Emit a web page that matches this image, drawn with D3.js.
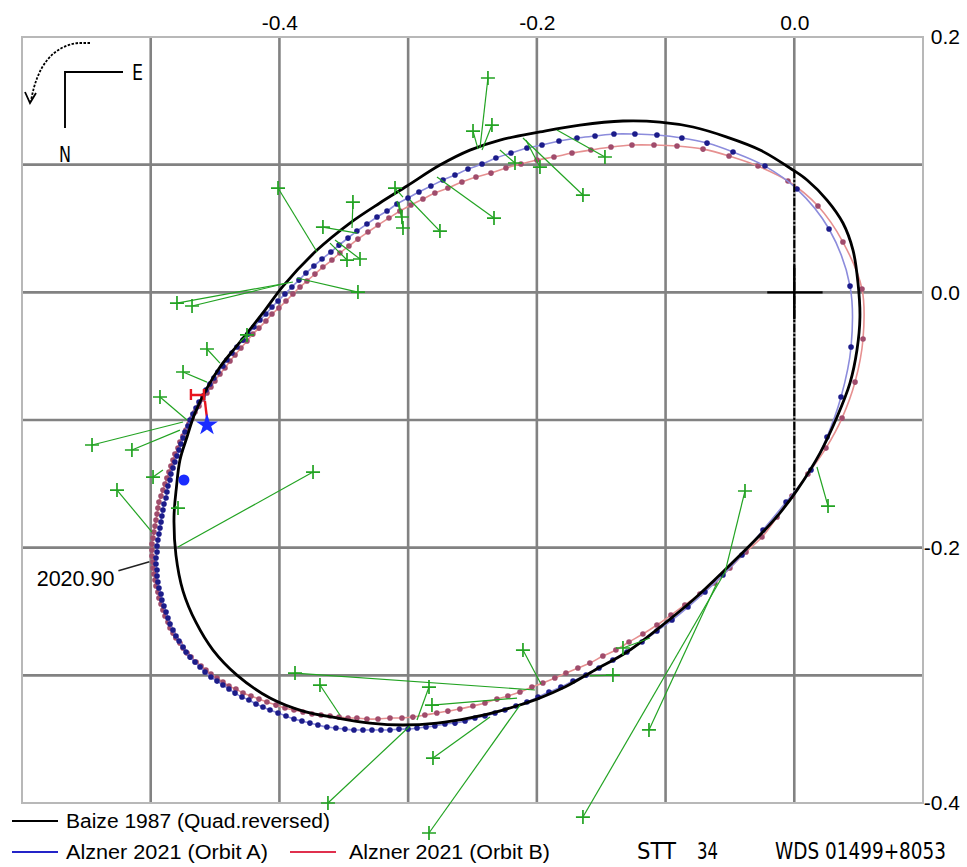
<!DOCTYPE html>
<html>
<head>
<meta charset="utf-8">
<script src="https://cdn.jsdelivr.net/npm/d3@7"></script>
<style>
  body { margin: 0; background: #fff; }
  svg { display: block; }
</style>
</head>
<body>
<svg id="chart" width="967" height="867"></svg>
<script>
// Apparent orbit of STT 34 (WDS 01499+8053); offsets from the primary in arcsec.

const xGrid = [-0.6, -0.5, -0.4, -0.3, -0.2, -0.1, 0.0, 0.1];
const yGrid = [-0.4, -0.3, -0.2, -0.1, 0.0, 0.1, 0.2];
const xLabels = [-0.4, -0.2, 0.0];
const yLabels = [0.2, 0.0, -0.2, -0.4];

// Baize 1987 (quadrant reversed), traced path
const orbitBaize = [
  [-0.0010,0.0958],[0.0099,0.0880],[0.0254,0.0723],[0.0378,0.0543],[0.0456,0.0331],[0.0495,0.0073],
  [0.0510,-0.0193],[0.0487,-0.0452],[0.0433,-0.0710],[0.0332,-0.0977],[0.0200,-0.1259],[0.0021,-0.1549],
  [-0.0119,-0.1737],[-0.0266,-0.1901],[-0.0523,-0.2159],[-0.0787,-0.2410],[-0.1043,-0.2622],[-0.1300,-0.2817],
  [-0.1548,-0.2958],[-0.1782,-0.3092],[-0.1999,-0.3186],[-0.2263,-0.3272],[-0.2520,-0.3334],[-0.2776,-0.3374],
  [-0.3040,-0.3389],[-0.3297,-0.3374],[-0.3553,-0.3334],[-0.3817,-0.3280],[-0.4073,-0.3178],[-0.4330,-0.2998],
  [-0.4516,-0.2802],[-0.4649,-0.2584],[-0.4749,-0.2340],[-0.4804,-0.2058],[-0.4819,-0.1760],[-0.4800,-0.1525],
  [-0.4773,-0.1314],[-0.4718,-0.1133],[-0.4656,-0.0945],[-0.4563,-0.0750],[-0.4462,-0.0585],[-0.4307,-0.0389],
  [-0.4112,-0.0139],[-0.3972,0.0049],[-0.3708,0.0331],[-0.3452,0.0543],[-0.3220,0.0700],[-0.3009,0.0833],
  [-0.2753,0.0997],[-0.2520,0.1114],[-0.2287,0.1193],[-0.1976,0.1256],[-0.1665,0.1310],[-0.1331,0.1342],
  [-0.1043,0.1334],[-0.0787,0.1295],[-0.0523,0.1216],[-0.0266,0.1115]
];

// Alzner 2021, Orbit A: ephemeris positions at equal time steps
const orbitA = [
  [0.0021,0.0809],[-0.0228,0.0989],[-0.0476,0.1099],[-0.0678,0.1169],[-0.0873,0.1209],[-0.1067,0.1232],[-0.1238,0.1240],[-0.1401,0.1240],[-0.1548,0.1224],[-0.1688,0.1209],
  [-0.1828,0.1185],[-0.1960,0.1154],[-0.2077,0.1130],[-0.2201,0.1091],[-0.2318,0.1052],[-0.2426,0.1005],[-0.2535,0.0966],[-0.2636,0.0919],[-0.2729,0.0880],[-0.2823,0.0833],
  [-0.2916,0.0786],[-0.3001,0.0739],[-0.3087,0.0692],[-0.3164,0.0637],[-0.3242,0.0590],[-0.3320,0.0535],[-0.3398,0.0480],[-0.3467,0.0425],[-0.3537,0.0370],[-0.3600,0.0316],
  [-0.3669,0.0261],[-0.3732,0.0206],[-0.3794,0.0151],[-0.3848,0.0096],[-0.3903,0.0042],[-0.3957,-0.0013],[-0.4011,-0.0068],[-0.4058,-0.0115],[-0.4105,-0.0170],[-0.4151,-0.0217],
  [-0.4198,-0.0272],[-0.4244,-0.0327],[-0.4283,-0.0374],[-0.4330,-0.0428],[-0.4369,-0.0475],[-0.4408,-0.0530],[-0.4439,-0.0577],[-0.4478,-0.0624],[-0.4509,-0.0671],[-0.4540,-0.0718],
  [-0.4571,-0.0765],[-0.4594,-0.0812],[-0.4625,-0.0859],[-0.4648,-0.0906],[-0.4672,-0.0953],[-0.4695,-0.1000],[-0.4711,-0.1047],[-0.4734,-0.1094],[-0.4749,-0.1141],[-0.4765,-0.1188],
  [-0.4780,-0.1235],[-0.4796,-0.1282],[-0.4812,-0.1329],[-0.4827,-0.1376],[-0.4843,-0.1423],[-0.4850,-0.1470],[-0.4866,-0.1517],[-0.4874,-0.1564],[-0.4881,-0.1611],[-0.4897,-0.1658],
  [-0.4905,-0.1705],[-0.4913,-0.1752],[-0.4920,-0.1799],[-0.4928,-0.1846],[-0.4936,-0.1893],[-0.4944,-0.1940],[-0.4951,-0.1987],[-0.4951,-0.2034],[-0.4959,-0.2081],[-0.4959,-0.2128],
  [-0.4951,-0.2175],[-0.4951,-0.2222],[-0.4944,-0.2269],[-0.4936,-0.2316],[-0.4920,-0.2363],[-0.4913,-0.2410],[-0.4897,-0.2457],[-0.4881,-0.2504],[-0.4866,-0.2551],[-0.4850,-0.2598],
  [-0.4827,-0.2645],[-0.4804,-0.2692],[-0.4780,-0.2731],[-0.4749,-0.2778],[-0.4726,-0.2817],[-0.4695,-0.2857],[-0.4656,-0.2896],[-0.4617,-0.2935],[-0.4578,-0.2974],[-0.4532,-0.3013],
  [-0.4485,-0.3045],[-0.4439,-0.3076],[-0.4392,-0.3107],[-0.4345,-0.3139],[-0.4291,-0.3170],[-0.4237,-0.3193],[-0.4182,-0.3225],[-0.4128,-0.3248],[-0.4073,-0.3272],[-0.4011,-0.3295],
  [-0.3949,-0.3319],[-0.3887,-0.3342],[-0.3825,-0.3358],[-0.3763,-0.3374],[-0.3701,-0.3389],[-0.3631,-0.3405],[-0.3561,-0.3413],[-0.3491,-0.3421],[-0.3421,-0.3428],[-0.3351,-0.3428],
  [-0.3281,-0.3428],[-0.3211,-0.3428],[-0.3141,-0.3428],[-0.3071,-0.3421],[-0.3001,-0.3421],[-0.2931,-0.3413],[-0.2861,-0.3405],[-0.2792,-0.3397],[-0.2714,-0.3381],[-0.2636,-0.3374],
  [-0.2558,-0.3358],[-0.2481,-0.3334],[-0.2403,-0.3319],[-0.2325,-0.3295],[-0.2248,-0.3272],[-0.2162,-0.3240],[-0.2077,-0.3209],[-0.1991,-0.3170],[-0.1906,-0.3131],[-0.1813,-0.3092],
  [-0.1719,-0.3045],[-0.1618,-0.2998],[-0.1517,-0.2943],[-0.1409,-0.2880],[-0.1300,-0.2817],[-0.1183,-0.2739],[-0.1067,-0.2653],[-0.0950,-0.2567],[-0.0826,-0.2465],[-0.0694,-0.2347],
  [-0.0554,-0.2214],[-0.0406,-0.2058],[-0.0243,-0.1862],[-0.0064,-0.1643],[0.0130,-0.1392],[0.0254,-0.1133],[0.0363,-0.0820],[0.0441,-0.0428],[0.0433,0.0049],[0.0270,0.0496]
];

// Alzner 2021, Orbit B: ephemeris positions at equal time steps
const orbitB = [
  [0.0184,0.0676],[-0.0049,0.0872],[-0.0282,0.0989],[-0.0507,0.1068],[-0.0709,0.1122],[-0.0911,0.1146],[-0.1090,0.1154],[-0.1261,0.1154],[-0.1424,0.1138],[-0.1580,0.1115],
  [-0.1727,0.1091],[-0.1867,0.1060],[-0.1999,0.1036],[-0.2123,0.1005],[-0.2240,0.0974],[-0.2356,0.0934],[-0.2473,0.0903],[-0.2582,0.0864],[-0.2691,0.0817],[-0.2792,0.0778],
  [-0.2885,0.0731],[-0.2978,0.0684],[-0.3064,0.0637],[-0.3149,0.0582],[-0.3234,0.0527],[-0.3312,0.0472],[-0.3390,0.0417],[-0.3460,0.0363],[-0.3530,0.0308],[-0.3592,0.0253],
  [-0.3662,0.0198],[-0.3724,0.0143],[-0.3786,0.0089],[-0.3840,0.0042],[-0.3895,-0.0013],[-0.3949,-0.0068],[-0.4004,-0.0123],[-0.4058,-0.0170],[-0.4105,-0.0225],[-0.4159,-0.0280],
  [-0.4206,-0.0327],[-0.4252,-0.0381],[-0.4299,-0.0436],[-0.4345,-0.0491],[-0.4384,-0.0538],[-0.4423,-0.0593],[-0.4462,-0.0640],[-0.4501,-0.0695],[-0.4532,-0.0742],[-0.4563,-0.0789],
  [-0.4594,-0.0836],[-0.4625,-0.0891],[-0.4656,-0.0938],[-0.4679,-0.0985],[-0.4703,-0.1032],[-0.4726,-0.1079],[-0.4749,-0.1126],[-0.4773,-0.1173],[-0.4788,-0.1220],[-0.4812,-0.1267],
  [-0.4827,-0.1314],[-0.4843,-0.1361],[-0.4858,-0.1408],[-0.4874,-0.1455],[-0.4889,-0.1502],[-0.4905,-0.1549],[-0.4920,-0.1596],[-0.4936,-0.1643],[-0.4944,-0.1690],[-0.4951,-0.1737],
  [-0.4959,-0.1784],[-0.4967,-0.1831],[-0.4975,-0.1878],[-0.4982,-0.1925],[-0.4990,-0.1972],[-0.4990,-0.2019],[-0.4990,-0.2066],[-0.4982,-0.2113],[-0.4982,-0.2159],[-0.4975,-0.2206],
  [-0.4967,-0.2253],[-0.4959,-0.2300],[-0.4944,-0.2347],[-0.4936,-0.2394],[-0.4920,-0.2441],[-0.4905,-0.2488],[-0.4889,-0.2535],[-0.4866,-0.2582],[-0.4850,-0.2629],[-0.4827,-0.2669],
  [-0.4804,-0.2708],[-0.4773,-0.2747],[-0.4749,-0.2786],[-0.4718,-0.2825],[-0.4687,-0.2857],[-0.4648,-0.2896],[-0.4609,-0.2927],[-0.4571,-0.2958],[-0.4532,-0.2990],[-0.4485,-0.3021],
  [-0.4439,-0.3052],[-0.4392,-0.3084],[-0.4338,-0.3107],[-0.4283,-0.3139],[-0.4221,-0.3162],[-0.4159,-0.3186],[-0.4097,-0.3209],[-0.4027,-0.3233],[-0.3957,-0.3256],[-0.3887,-0.3272],
  [-0.3817,-0.3287],[-0.3747,-0.3303],[-0.3677,-0.3311],[-0.3607,-0.3319],[-0.3537,-0.3327],[-0.3467,-0.3334],[-0.3398,-0.3334],[-0.3320,-0.3342],[-0.3234,-0.3342],[-0.3141,-0.3334],
  [-0.3048,-0.3334],[-0.2963,-0.3327],[-0.2870,-0.3311],[-0.2777,-0.3295],[-0.2691,-0.3280],[-0.2598,-0.3264],[-0.2497,-0.3240],[-0.2403,-0.3217],[-0.2310,-0.3186],[-0.2225,-0.3162],
  [-0.2131,-0.3131],[-0.2038,-0.3092],[-0.1953,-0.3060],[-0.1860,-0.3021],[-0.1774,-0.2982],[-0.1681,-0.2943],[-0.1588,-0.2904],[-0.1487,-0.2849],[-0.1386,-0.2802],[-0.1284,-0.2739],
  [-0.1176,-0.2676],[-0.1067,-0.2606],[-0.0958,-0.2528],[-0.0850,-0.2449],[-0.0733,-0.2363],[-0.0617,-0.2277],[-0.0500,-0.2159],[-0.0375,-0.2034],[-0.0251,-0.1917],[-0.0134,-0.1760],
  [-0.0018,-0.1596],[0.0106,-0.1423],[0.0246,-0.1220],[0.0371,-0.0985],[0.0472,-0.0703],[0.0534,-0.0366],[0.0526,0.0026],[0.0378,0.0394]
];

// Measures: observed position (x, y) and the matching orbit position (cx, cy)
const measures = [
  [-0.2380,0.1679,-0.2442,0.1130],[-0.2349,0.1310,-0.2426,0.1115],[-0.2496,0.1263,-0.2457,0.1122],
  [-0.1471,0.1060,-0.1844,0.1271],[-0.1642,0.0762,-0.2108,0.1209],[-0.1976,0.0981,-0.2085,0.1193],
  [-0.2170,0.1013,-0.2287,0.1115],[-0.2333,0.0582,-0.2776,0.0903],[-0.2753,0.0480,-0.2986,0.0723],
  [-0.3102,0.0817,-0.3040,0.0746],[-0.3048,0.0590,-0.3087,0.0715],[-0.3040,0.0504,-0.3071,0.0707],
  [-0.3429,0.0707,-0.3436,0.0504],[-0.3662,0.0511,-0.3398,0.0464],[-0.3475,0.0253,-0.3607,0.0386],
  [-0.3374,0.0261,-0.3568,0.0410],[-0.4011,0.0817,-0.3708,0.0316],[-0.3390,0.0002,-0.3864,0.0112],
  [-0.4796,-0.0084,-0.3895,0.0081],[-0.4679,-0.0107,-0.3941,0.0073],[-0.4563,-0.0444,-0.4462,-0.0554],
  [-0.4749,-0.0624,-0.4563,-0.0703],[-0.4928,-0.0820,-0.4718,-0.1000],[-0.5456,-0.1196,-0.4749,-0.1016],
  [-0.5146,-0.1235,-0.4773,-0.1079],[-0.4982,-0.1447,-0.4905,-0.1392],[-0.5262,-0.1549,-0.4990,-0.1878],
  [-0.3739,-0.1408,-0.4788,-0.1995],[-0.4788,-0.1690,-0.4812,-0.1674],[-0.4252,-0.0334,-0.4307,-0.0389],
  [-0.3879,-0.2982,-0.2015,-0.3115],[-0.3685,-0.3076,-0.3530,-0.3311],[-0.2838,-0.3092,-0.2931,-0.3350],
  [-0.2815,-0.3233,-0.2154,-0.3178],[-0.2108,-0.2802,-0.1968,-0.3068],[-0.2807,-0.3648,-0.2364,-0.3327],
  [-0.3623,-0.4000,-0.2986,-0.3397],[-0.2838,-0.4235,-0.2131,-0.3233],[-0.1642,-0.4110,-0.0538,-0.2191],
  [-0.1129,-0.3428,-0.0601,-0.2277],[-0.0383,-0.1556,-0.0538,-0.2191],[-0.1409,-0.2998,-0.1587,-0.3005],
  [-0.1331,-0.2786,-0.1121,-0.2708],[0.0262,-0.1674,0.0176,-0.1368]
];

// Line of nodes through the primary
const nodeLine = [[0, 0.0958], [0, -0.1570]];
// Latest measure and predicted positions
const starMark = [-0.4563, -0.1039];
const dotMark = [-0.4742, -0.1470];
const redMark = [-0.4641, -0.0804];
const redTick = [[-0.4579, -0.0851], [-0.4563, -0.0985]];
// Epoch label on the orbit
const epochText = "2020.90";
const epochPoint = [-0.5010, -0.2110];

const svg = d3.select("#chart");
const fontMain = "'Liberation Sans', Arial, sans-serif";
const fontNarrow = "'Liberation Sans Narrow', 'DejaVu Sans Condensed', 'Liberation Sans', sans-serif";

const x = d3.scaleLinear().domain([-0.6, 0.1]).range([22, 923]);
const y = d3.scaleLinear().domain([-0.4, 0.2]).range([803, 37]);
const [x0, x1] = x.range();
const [y1, y0] = y.range();

svg.append("rect").attr("width", 967).attr("height", 867).attr("fill", "#fff");

// grid
const grid = svg.append("g");
grid.selectAll("line.v").data(xGrid.filter(d => d > -0.6 && d < 0.1)).join("line")
  .attr("x1", d => x(d)).attr("x2", d => x(d)).attr("y1", y0).attr("y2", y1)
  .attr("stroke", "#828282").attr("stroke-width", 2.6);
grid.selectAll("line.h").data(yGrid.filter(d => d > -0.4 && d < 0.2)).join("line")
  .attr("x1", x0).attr("x2", x1).attr("y1", d => y(d)).attr("y2", d => y(d))
  .attr("stroke", "#828282").attr("stroke-width", 2.6);
grid.append("rect").attr("x", x0).attr("y", y0).attr("width", x1 - x0).attr("height", y1 - y0)
  .attr("fill", "none").attr("stroke", "#b8b8b8").attr("stroke-width", 2);

// axes
const fmt = d => d.toFixed(1);
svg.append("g").attr("transform", `translate(0,${y0})`)
  .call(d3.axisTop(x).tickValues(xLabels).tickSize(0).tickPadding(7).tickFormat(fmt))
  .call(g => g.select(".domain").remove())
  .call(g => g.selectAll("text").attr("font-family", fontMain).attr("font-size", 21).attr("fill", "#000"));
svg.append("g").attr("transform", `translate(${x1},0)`)
  .call(d3.axisRight(y).tickValues(yLabels).tickSize(0).tickFormat(fmt))
  .call(g => g.select(".domain").remove())
  .call(g => g.selectAll("text").attr("x", 37).attr("text-anchor", "end")
    .attr("font-family", fontMain).attr("font-size", 21).attr("fill", "#000"));

const curve = d3.line().x(d => x(d[0])).y(d => y(d[1])).curve(d3.curveCatmullRomClosed.alpha(0.5));

// Orbit B
svg.append("path").attr("d", curve(orbitB)).attr("fill", "none").attr("stroke", "#e69090").attr("stroke-width", 1.6);
svg.append("g").selectAll("circle").data(orbitB).join("circle")
  .attr("cx", d => x(d[0])).attr("cy", d => y(d[1])).attr("r", 2.8).attr("fill", "#a04c6c");

// Orbit A
svg.append("path").attr("d", curve(orbitA)).attr("fill", "none").attr("stroke", "#8c8cdc").attr("stroke-width", 1.6);
svg.append("g").selectAll("circle").data(orbitA).join("circle")
  .attr("cx", d => x(d[0])).attr("cy", d => y(d[1])).attr("r", 2.8).attr("fill", "#1c1c8a");

// Baize 1987
svg.append("path").attr("d", curve(orbitBaize)).attr("fill", "none").attr("stroke", "#000").attr("stroke-width", 2.8);

// line of nodes and primary
svg.append("line")
  .attr("x1", x(nodeLine[0][0])).attr("y1", y(nodeLine[0][1]))
  .attr("x2", x(nodeLine[1][0])).attr("y2", y(nodeLine[1][1]))
  .attr("stroke", "#000").attr("stroke-width", 2).attr("stroke-dasharray", "8,2,2,2");
svg.append("line").attr("x1", x(-0.021)).attr("x2", x(0.022)).attr("y1", y(0)).attr("y2", y(0))
  .attr("stroke", "#000").attr("stroke-width", 2.4);
svg.append("line").attr("x1", x(0)).attr("x2", x(0)).attr("y1", y(0.021)).attr("y2", y(-0.021))
  .attr("stroke", "#000").attr("stroke-width", 2.4);

// measures: O-C segments and plus markers
const green = "#22a322";
const mg = svg.append("g");
mg.selectAll("line").data(measures).join("line")
  .attr("x1", d => x(d[0])).attr("y1", d => y(d[1]))
  .attr("x2", d => x(d[2])).attr("y2", d => y(d[3]))
  .attr("stroke", green).attr("stroke-width", 1.2);
mg.selectAll("path").data(measures).join("path")
  .attr("d", d => {
    const px = x(d[0]), py = y(d[1]), s = 7;
    return `M${px - s},${py}H${px + s}M${px},${py - s}V${py + s}`;
  })
  .attr("stroke", green).attr("stroke-width", 1.7).attr("fill", "none");

// red marker
{
  const px = x(redMark[0]), py = y(redMark[1]);
  svg.append("path")
    .attr("d", `M${px - 6},${py - 6}V${py + 5}M${px - 6},${py}H${px + 7}M${px + 7},${py - 6}V${py + 5}`)
    .attr("stroke", "#e8141e").attr("stroke-width", 2.4).attr("fill", "none");
  svg.append("line")
    .attr("x1", x(redTick[0][0])).attr("y1", y(redTick[0][1]))
    .attr("x2", x(redTick[1][0])).attr("y2", y(redTick[1][1]))
    .attr("stroke", "#e8141e").attr("stroke-width", 2.4);
}
// blue markers
svg.append("path").attr("d", d3.symbol(d3.symbolStar, 150)())
  .attr("transform", `translate(${x(starMark[0])},${y(starMark[1])})`).attr("fill", "#1a2cff");
svg.append("circle").attr("cx", x(dotMark[0])).attr("cy", y(dotMark[1])).attr("r", 5.5).attr("fill", "#1a2cff");

// epoch label
{
  const px = x(epochPoint[0]), py = y(epochPoint[1]);
  svg.append("line").attr("x1", px - 31).attr("y1", py + 9).attr("x2", px).attr("y2", py)
    .attr("stroke", "#222").attr("stroke-width", 1.6);
  svg.append("text").attr("x", px - 35).attr("y", py + 24).attr("text-anchor", "end")
    .attr("font-family", fontMain).attr("font-size", 21.5).text(epochText);
}

// orientation: N down, E right, sense of motion
const comp = svg.append("g").attr("stroke", "#000").attr("fill", "none");
comp.append("path").attr("d", "M65,128V72H123").attr("stroke-width", 1.9);
comp.append("path").attr("d", "M90,43H78Q40,48 31,101").attr("stroke-width", 1.8).attr("stroke-dasharray", "2.5,1.5");
comp.append("path").attr("d", "M25,92L30,103L36,93").attr("stroke-width", 1.8);
svg.append("text").attr("x", 132).attr("y", 80).attr("font-family", fontNarrow).attr("font-size", 21)
  .attr("textLength", 11).attr("lengthAdjust", "spacingAndGlyphs").text("E");
svg.append("text").attr("x", 59).attr("y", 162).attr("font-family", fontNarrow).attr("font-size", 21)
  .attr("textLength", 12).attr("lengthAdjust", "spacingAndGlyphs").text("N");

// legend
const legend = [
  { label: "Baize 1987 (Quad.reversed)", color: "#000", lx: 12, tx: 66, y: 821, w: 264 },
  { label: "Alzner 2021 (Orbit A)", color: "#2424c8", lx: 12, tx: 66, y: 852, w: 202 },
  { label: "Alzner 2021 (Orbit B)", color: "#e0304e", lx: 290, tx: 349, y: 852, w: 201 }
];
const lg = svg.append("g");
lg.selectAll("line").data(legend).join("line")
  .attr("x1", d => d.lx).attr("x2", d => d.lx + 46).attr("y1", d => d.y).attr("y2", d => d.y)
  .attr("stroke", d => d.color).attr("stroke-width", 2);
lg.selectAll("text").data(legend).join("text")
  .attr("x", d => d.tx).attr("y", d => d.y + 7).attr("font-family", fontMain).attr("font-size", 20)
  .attr("textLength", d => d.w).attr("lengthAdjust", "spacingAndGlyphs").text(d => d.label);

svg.append("text").attr("x", 637).attr("y", 859).attr("font-family", fontNarrow).attr("font-size", 23)
  .attr("textLength", 39).attr("lengthAdjust", "spacingAndGlyphs").text("STT");
svg.append("text").attr("x", 697).attr("y", 859).attr("font-family", fontNarrow).attr("font-size", 23)
  .attr("textLength", 21).attr("lengthAdjust", "spacingAndGlyphs").text("34");
svg.append("text").attr("x", 775).attr("y", 859).attr("font-family", fontNarrow).attr("font-size", 23)
  .attr("textLength", 171).attr("lengthAdjust", "spacingAndGlyphs").text("WDS 01499+8053");
</script>
</body>
</html>
